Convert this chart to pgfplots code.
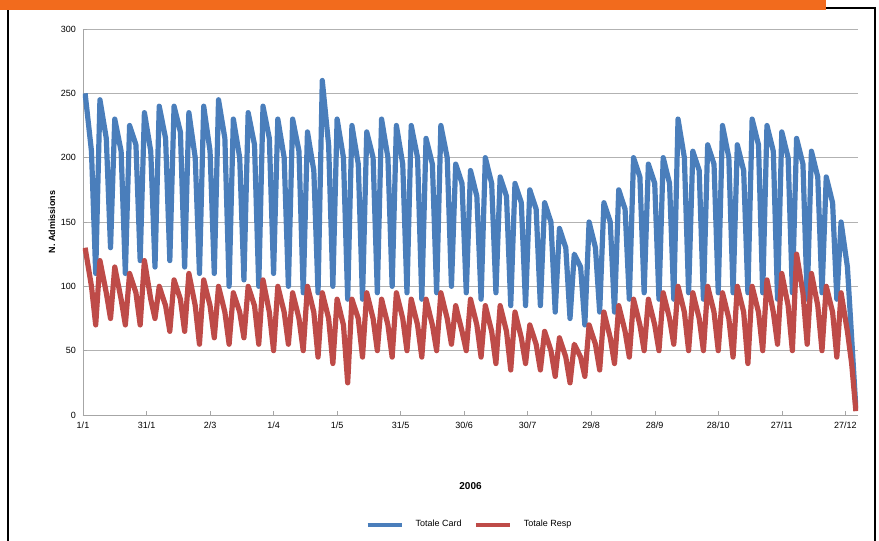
\documentclass[border=0pt]{standalone}
\usepackage{pgfplots}
\pgfplotsset{compat=1.18}
\usepackage{fontspec}
\setmainfont{Liberation Sans}
\definecolor{cblue}{HTML}{4A7EBB}
\definecolor{cred}{HTML}{BE4B48}
\definecolor{corange}{HTML}{F26B1D}
\pgfplotstableread{
d b r
1 250 130
4 205 100
6 110 70
8 245 120
11 215 95
13 130 75
15 230 115
18 205 90
20 110 70
22 225 110
25 210 95
27 120 70
29 235 120
32 205 90
34 115 75
36 240 100
39 215 85
41 120 65
43 240 105
46 220 90
48 115 65
50 235 110
53 200 85
55 110 55
57 240 105
60 205 85
62 110 60
64 245 100
67 215 80
69 100 55
71 230 95
74 200 80
76 105 60
78 235 100
81 210 85
83 100 55
85 240 105
88 215 80
90 110 50
92 230 100
95 200 80
97 100 55
99 230 95
102 205 75
104 95 50
106 220 100
109 190 80
111 95 45
113 260 95
116 210 75
118 100 40
120 230 90
123 200 70
125 90 25
127 225 90
130 195 75
132 90 45
134 220 95
137 200 75
139 95 50
141 230 90
144 200 70
146 100 45
148 225 95
151 195 75
153 95 50
155 225 90
158 200 70
160 90 45
162 215 90
165 195 70
167 95 50
169 225 95
172 200 75
174 100 55
176 195 85
179 180 65
181 95 50
183 190 90
186 170 70
188 90 45
190 200 85
193 180 65
195 95 40
197 185 85
200 170 65
202 85 35
204 180 80
207 165 60
209 85 40
211 175 70
214 160 55
216 85 35
218 165 65
221 150 50
223 80 30
225 145 60
228 130 45
230 75 25
232 125 55
235 115 45
237 70 30
239 150 70
242 130 55
244 80 35
246 165 80
249 150 60
251 80 40
253 175 85
256 160 65
258 90 45
260 200 90
263 185 70
265 95 50
267 195 90
270 180 70
272 90 50
274 200 95
277 180 75
279 90 55
281 230 100
284 200 80
286 95 50
288 205 95
291 190 75
293 90 50
295 210 100
298 195 80
300 95 50
302 225 95
305 200 75
307 95 45
309 210 100
312 190 80
314 95 40
316 230 100
319 210 80
321 95 50
323 225 105
326 205 80
328 90 55
330 220 110
333 200 85
335 95 50
337 215 125
340 195 95
342 90 55
344 205 110
347 185 85
349 95 50
351 185 100
354 165 80
356 90 45
358 150 95
361 115 65
363 60 40
365 5 3
}\data
\begin{document}
\begin{tikzpicture}[x=1pt,y=1pt]
\path[use as bounding box] (0,0) rectangle (439.5,270.5);
\draw[black,line width=1.2pt] (4,-1) -- (4,266.5) -- (437.5,266.5) -- (437.5,-1);
\fill[corange] (0,265.5) rectangle (413,270.5);
\begin{axis}[
  at={(41.5pt,63pt)}, anchor=south west,
  scale only axis, width=387.5pt, height=193pt,
  xmin=0, xmax=366, ymin=0, ymax=300,
  xtick={0,30,...,360},
  xticklabels={1/1,31/1,2/3,1/4,1/5,31/5,30/6,30/7,29/8,28/9,28/10,27/11,27/12},
  ytick={0,50,...,300},
  ymajorgrids, grid style={gray!60,line width=0.5pt},
  axis x line*=bottom, axis y line*=left,
  axis line style={gray!70},
  tick style={gray!70}, major tick length=2pt,
  tick label style={font=\fontsize{4.5}{5}\selectfont},
  /pgf/number format/assume math mode=true,
  xlabel={\textbf{2006}}, xlabel style={font=\fontsize{5}{6}\selectfont, yshift=-20pt},
  ylabel={\textbf{N. Admissions}}, ylabel style={font=\fontsize{4.5}{5}\selectfont, yshift=-4pt},
  legend style={at={(0.5,-0.25)}, anchor=north, draw=none, legend columns=2,
    font=\fontsize{4.5}{5}\selectfont, column sep=4pt},
  legend image post style={line width=2pt},
]
\addplot[cblue, line width=2.6pt, line join=round] table[x=d,y=b]{\data};
\addlegendentry{Totale Card}
\addplot[cred, line width=2.6pt, line join=round] table[x=d,y=r]{\data};
\addlegendentry{Totale Resp}
\end{axis}
\end{tikzpicture}
\end{document}
